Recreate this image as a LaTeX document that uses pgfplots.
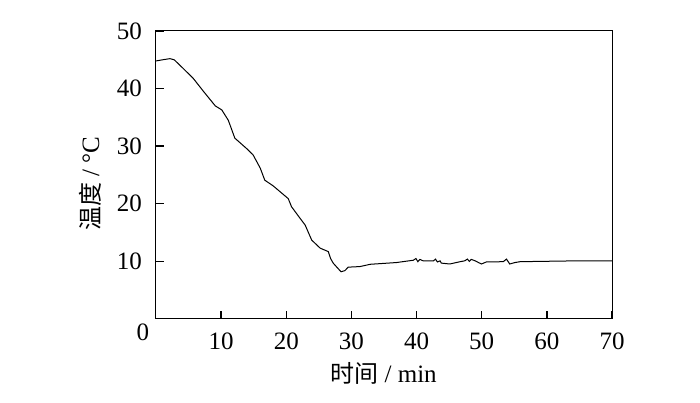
\documentclass[border=0pt]{standalone}
\usepackage{pgfplots}
\pgfplotsset{compat=1.18}
\usepackage{fontspec}
\setmainfont{Liberation Serif}
\newfontfamily\cjk{Noto Sans CJK SC}
\begin{document}
\fontsize{25}{28}\selectfont
\begin{tikzpicture}
\begin{axis}[
  scale only axis,
  width=456pt, height=288pt,
  xmin=0, xmax=70, ymin=0, ymax=50,
  xtick={10,20,...,70}, ytick={10,20,...,50},
  tick pos=left, tick align=inside,
  major tick length=8pt,
  axis line style={line width=1pt},
  tick style={draw=black, line width=1.4pt},
  /pgf/number format/assume math mode=true,
  ticklabel style={font=\fontsize{25}{28}\selectfont, inner sep=0pt},
  yticklabel style={xshift=-14pt},
  xticklabel style={yshift=-14pt},
  xlabel={{\cjk\fontsize{24}{28}\selectfont 时间} / min},
  ylabel={{\cjk\fontsize{24}{28}\selectfont 温度} / °C},
  label style={font=\fontsize{25}{28}\selectfont},
  xlabel style={at={(axis description cs:0.499,-0.1875)}, anchor=center},
  ylabel style={at={(axis description cs:-0.145,0.469)}, anchor=center},
  clip=false,
]
\addplot[black, line width=1pt] coordinates {
  (0,44.8) (1,45.0) (2.15,45.2) (2.8,45.0) (3.9,43.8) (5.7,41.8)
  (7.3,39.5) (9.1,37.0) (10.1,36.3) (11.1,34.5) (12.1,31.4) (12.9,30.6)
  (13.9,29.6) (14.9,28.5) (16.0,26.2) (16.7,24.1) (18.0,23.1) (20.3,20.9)
  (20.8,19.5) (22.1,17.5) (22.9,16.3) (23.9,13.7) (25.2,12.3) (26.45,11.7)
  (26.8,10.5) (27.2,9.7) (28.4,8.2) (29.0,8.4) (29.5,9.0) (31.3,9.1)
  (32.9,9.5) (36.9,9.8) (39.5,10.2) (39.9,10.5) (40.2,9.95) (40.5,10.35)
  (41.0,10.1) (42.6,10.1) (42.9,10.4) (43.2,9.9) (43.6,10.1) (43.8,9.7)
  (45.1,9.55) (46.7,9.95) (47.4,10.1) (47.8,10.4) (48.1,10.0) (48.4,10.35)
  (49.0,10.1) (49.5,9.8) (49.96,9.55) (50.7,9.9) (53.3,9.95) (53.8,10.4)
  (54.3,9.55) (55.1,9.8) (55.9,9.95) (63.0,10.07) (70,10.07)
};
\node[font=\fontsize{25}{28}\selectfont, inner sep=0pt] at (axis cs:0,0) [xshift=-13pt, yshift=-13.5pt] {0};
\end{axis}
\pgfresetboundingbox
\path ([shift={(-156pt,-84pt)}]current axis.south west) rectangle ([shift={(88pt,31pt)}]current axis.north east);
\end{tikzpicture}
\end{document}
